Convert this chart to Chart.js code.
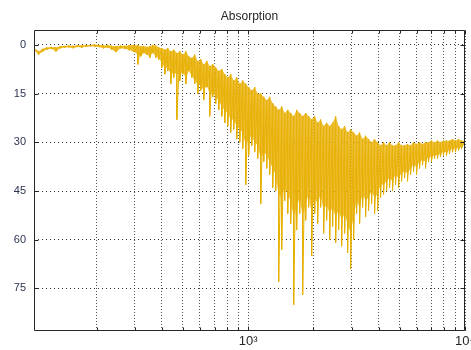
<!DOCTYPE html>
<html>
<head>
<meta charset="utf-8">
<title>Absorption</title>
<script src="https://cdn.jsdelivr.net/npm/chart.js@4.4.0/dist/chart.umd.min.js"></script>
<style>
    html, body { margin: 0; padding: 0; background: #ffffff; overflow: hidden; }
    canvas { display: block; }
</style>
</head>
<body>
<canvas id="absorptionChart" width="480" height="350"></canvas>
<script>
// frequency bins (Hz), with the top and bottom of the trace in each bin
const freqHz = [
    103, 108, 113, 118, 124, 130, 136, 142, 149, 156,
    163, 171, 179, 187, 196, 205, 215, 225, 235, 246,
    258, 270, 283, 296,
    300, 310, 320, 330, 341, 352, 363, 375, 387, 400,
    413, 426, 440, 454, 469, 484, 500, 516, 532, 550,
    567, 586, 605, 624, 645, 665, 687, 709, 732, 756,
    780, 805, 831, 858, 886, 915, 944, 975, 1006, 1039,
    1072, 1107, 1143, 1180, 1218, 1257, 1298, 1340, 1383, 1428,
    1474, 1522, 1571, 1622, 1674, 1728, 1784, 1842, 1901, 1963,
    2026, 2092, 2159, 2229, 2301, 2376, 2452, 2532, 2613, 2698,
    2785, 2875, 2968, 3064, 3163, 3265, 3371, 3480, 3592, 3708,
    3828, 3952, 4080, 4211, 4348, 4488, 4633, 4783, 4938, 5097,
    5262, 5432, 5608, 5789, 5976, 6169, 6369, 6574, 6787, 7006,
    7233, 7466, 7708, 7957, 8214, 8480, 8754, 9036, 9329, 9630,
    9941
];

// highest point of the trace in each bin (smallest value, axis is reversed)
const upperDb = [
    0.8, 2.0, 1.2, 0.8, 0.6, 0.8, 0.4, 0.3, 0.2, 0.3,
    0.1, 0.2, 0.0, 0.1, -0.1, 0.0, 0.2, 0.0, 0.3, 0.4,
    0.2, 0.3, 0.1, 0.0,
    0.2, 0.0, 0.5, 0.3, 0.6, 0.4, 0.0, 0.2, 0.8, 1.0,
    1.5, 1.0, 2.0, 1.5, 2.5, 2.0, 3.0, 2.0, 3.5, 4.0,
    3.0, 5.0, 4.5, 6.0, 5.0, 6.5, 6.0, 7.0, 8.0, 7.5,
    9.0, 10.0, 9.0, 11.0, 10.0, 12.0, 11.0, 12.0, 13.0, 14.0,
    13.0, 15.0, 15.0, 16.0, 17.0, 16.0, 18.0, 19.0, 20.0, 19.0,
    21.0, 20.0, 21.0, 22.0, 20.0, 21.0, 22.0, 21.0, 22.0, 23.0,
    22.0, 24.0, 23.0, 25.0, 24.0, 25.0, 24.0, 22.0, 25.0, 26.0,
    25.0, 27.0, 26.0, 27.0, 28.0, 27.0, 29.0, 28.0, 29.0, 30.0,
    29.0, 30.0, 31.0, 30.0, 31.0, 30.0, 31.0, 31.0, 30.0, 31.0,
    31.0, 30.5, 31.0, 30.0, 30.5, 30.0, 30.5, 30.0, 30.0, 29.5,
    30.0, 29.5, 30.0, 29.5, 29.5, 29.5, 29.0, 29.5, 29.0, 29.5,
    29.5
];

// deepest dips of the trace in each bin
const lowerDb = [
    1.5, 3.0, 2.0, 1.4, 1.2, 2.0, 1.0, 0.8, 0.7, 1.0,
    0.6, 0.8, 0.5, 0.4, 0.5, 0.6, 1.0, 0.8, 1.4, 2.2,
    1.0, 1.2, 1.6, 2.0,
    2.2, 6.0, 3.5, 2.5, 3.0, 4.0, 2.5, 4.0, 4.5, 7.0,
    9.0, 8.0, 12.0, 10.0, 23.0, 11.0, 9.0, 12.0, 8.0, 10.0,
    12.0, 15.0, 14.0, 17.0, 13.0, 22.0, 16.0, 18.0, 20.0, 22.0,
    24.0, 25.0, 27.0, 26.0, 29.0, 30.0, 32.0, 43.0, 34.0, 31.0,
    33.0, 35.0, 49.0, 36.0, 38.0, 40.0, 44.0, 45.0, 73.0, 63.0,
    48.0, 52.0, 55.0, 80.0, 57.0, 52.0, 77.0, 54.0, 50.0, 65.0,
    52.0, 55.0, 50.0, 58.0, 54.0, 60.0, 56.0, 61.0, 57.0, 62.0,
    58.0, 64.0, 69.0, 60.0, 52.0, 55.0, 50.0, 53.0, 51.0, 49.0,
    52.0, 51.0, 47.0, 46.0, 45.0, 44.0, 45.0, 43.0, 44.0, 42.0,
    41.0, 42.0, 40.0, 39.0, 40.0, 38.0, 37.0, 38.0, 36.0, 36.0,
    35.0, 35.0, 34.5, 34.0, 34.0, 33.5, 33.0, 33.0, 32.5, 32.0,
    31.0
];

// bottom of the dense, almost solid part of the band (spikes left out)
const coreLowerDb = [
    1.5, 3.0, 2.0, 1.4, 1.2, 2.0, 1.0, 0.8, 0.7, 1.0,
    0.6, 0.8, 0.5, 0.4, 0.5, 0.6, 1.0, 0.8, 1.4, 2.2,
    1.0, 1.2, 1.6, 2.0,
    2.2, 3.0, 3.5, 2.5, 3.0, 3.5, 2.5, 3.5, 4.0, 5.5,
    7.0, 7.0, 9.0, 8.5, 9.0, 9.0, 8.5, 10.0, 8.0, 9.5,
    11.0, 12.0, 12.5, 14.0, 12.5, 15.0, 14.5, 16.0, 17.0, 19.0,
    20.0, 21.0, 23.0, 23.0, 25.0, 26.0, 27.0, 31.0, 29.0, 28.0,
    30.0, 31.0, 35.0, 33.0, 34.0, 36.0, 38.0, 40.0, 46.0, 47.0,
    44.0, 46.0, 48.0, 53.0, 50.0, 47.0, 53.0, 49.0, 46.0, 52.0,
    47.0, 49.0, 46.0, 51.0, 49.0, 52.0, 50.0, 53.0, 51.0, 54.0,
    52.0, 55.0, 58.0, 53.0, 48.0, 50.0, 46.0, 48.0, 47.0, 45.0,
    47.0, 46.0, 43.0, 43.0, 42.0, 41.0, 42.0, 40.0, 41.0, 39.5,
    39.0, 39.5, 38.0, 37.0, 37.5, 36.0, 35.5, 36.0, 34.5, 34.5,
    34.0, 34.0, 33.5, 33.0, 33.0, 32.5, 32.0, 32.0, 31.5, 31.5,
    30.5
];

const yTicks = [0, 15, 30, 45, 60, 75];
const xGridHz = [200, 300, 400, 500, 600, 700, 800, 900, 1000,
                 2000, 3000, 4000, 5000, 6000, 7000, 8000, 9000, 10000];
const xLabels = { 1000: '10\u00b3', 10000: '10\u2074' };

const LINE_COLOR = '#E6B000';
const BAND_COLOR = 'rgba(232, 178, 10, 0.8)';
const AXIS_COLOR = '#262626';
const LABEL_COLOR = '#2b3450';

function toPoints(values) {
    return freqHz.map((f, i) => ({ x: f, y: values[i] }));
}

// trace goes down and up inside every bin, drawn over the band for the streaky look
function buildTrace() {
    const points = [];
    for (let i = 0; i < freqHz.length; i++) {
        points.push({ x: freqHz[i], y: upperDb[i] });
        points.push({ x: freqHz[i], y: lowerDb[i] });
    }
    return points;
}

// box round the plot with little inward ticks, like the original axes
const frameBox = {
    id: 'frameBox',
    afterDraw(chart) {
        const { ctx, chartArea: a, scales } = chart;
        const left = Math.round(a.left) + 0.5;
        const right = Math.round(a.right) - 0.5;
        const top = Math.round(a.top) + 0.5;
        const bottom = Math.round(a.bottom) - 0.5;
        ctx.save();
        ctx.strokeStyle = AXIS_COLOR;
        ctx.lineWidth = 1;
        ctx.setLineDash([]);
        ctx.beginPath();
        ctx.rect(left, top, right - left, bottom - top);
        scales.y.ticks.forEach(t => {
            const y = Math.round(scales.y.getPixelForValue(t.value)) + 0.5;
            ctx.moveTo(left, y); ctx.lineTo(left + 4, y);
            ctx.moveTo(right, y); ctx.lineTo(right - 4, y);
        });
        scales.x.ticks.forEach(t => {
            const x = Math.round(scales.x.getPixelForValue(t.value)) + 0.5;
            const len = xLabels[t.value] ? 4 : 3;
            ctx.moveTo(x, bottom); ctx.lineTo(x, bottom - len);
            ctx.moveTo(x, top); ctx.lineTo(x, top + len);
        });
        ctx.stroke();
        ctx.restore();
    }
};

function renderChart() {
    const ctx = document.getElementById('absorptionChart').getContext('2d');
    new Chart(ctx, {
        type: 'line',
        data: {
            datasets: [{
                label: 'upper',
                data: toPoints(upperDb),
                borderWidth: 0,
                pointRadius: 0,
                fill: false
            }, {
                label: 'core',
                data: toPoints(coreLowerDb),
                borderWidth: 0,
                backgroundColor: BAND_COLOR,
                pointRadius: 0,
                fill: '-1'
            }, {
                label: 'Absorption',
                data: buildTrace(),
                borderColor: LINE_COLOR,
                borderWidth: 1,
                pointRadius: 0,
                fill: false
            }]
        },
        options: {
            responsive: false,
            animation: false,
            elements: { line: { tension: 0 } },
            layout: { padding: { left: 0, right: 15, top: 0, bottom: 0 } },
            plugins: {
                legend: { display: false },
                tooltip: { enabled: false },
                title: {
                    display: true,
                    text: 'Absorption',
                    fullSize: false,
                    color: '#262626',
                    font: { family: "'Liberation Sans', Arial, sans-serif", size: 12, weight: 'normal' },
                    padding: { top: 9, bottom: 6.6 }
                }
            },
            scales: {
                x: {
                    type: 'logarithmic',
                    min: 103,
                    max: 10000,
                    afterBuildTicks: scale => {
                        scale.ticks = xGridHz.map(v => ({ value: v }));
                    },
                    afterFit: scale => { scale.height = 19; },
                    grid: { color: '#555555', lineWidth: 1, drawTicks: false },
                    border: { display: false, dash: [1, 2] },
                    ticks: {
                        autoSkip: false,
                        maxRotation: 0,
                        padding: 3,
                        color: '#262626',
                        font: { family: "'Liberation Sans', Arial, sans-serif", size: 13 },
                        callback: value => xLabels[value] || ''
                    }
                },
                y: {
                    type: 'linear',
                    reverse: true,
                    min: -4.6,
                    max: 88.1,
                    afterBuildTicks: scale => {
                        scale.ticks = yTicks.map(v => ({ value: v }));
                    },
                    afterFit: scale => { scale.width = 34; },
                    grid: { color: '#333333', lineWidth: 1, drawTicks: false },
                    border: { display: false, dash: [1, 3] },
                    ticks: {
                        padding: 8,
                        color: LABEL_COLOR,
                        font: { family: "'Liberation Sans', Arial, sans-serif", size: 11 }
                    }
                }
            }
        },
        plugins: [frameBox]
    });
}

window.addEventListener('DOMContentLoaded', renderChart);
</script>
</body>
</html>
